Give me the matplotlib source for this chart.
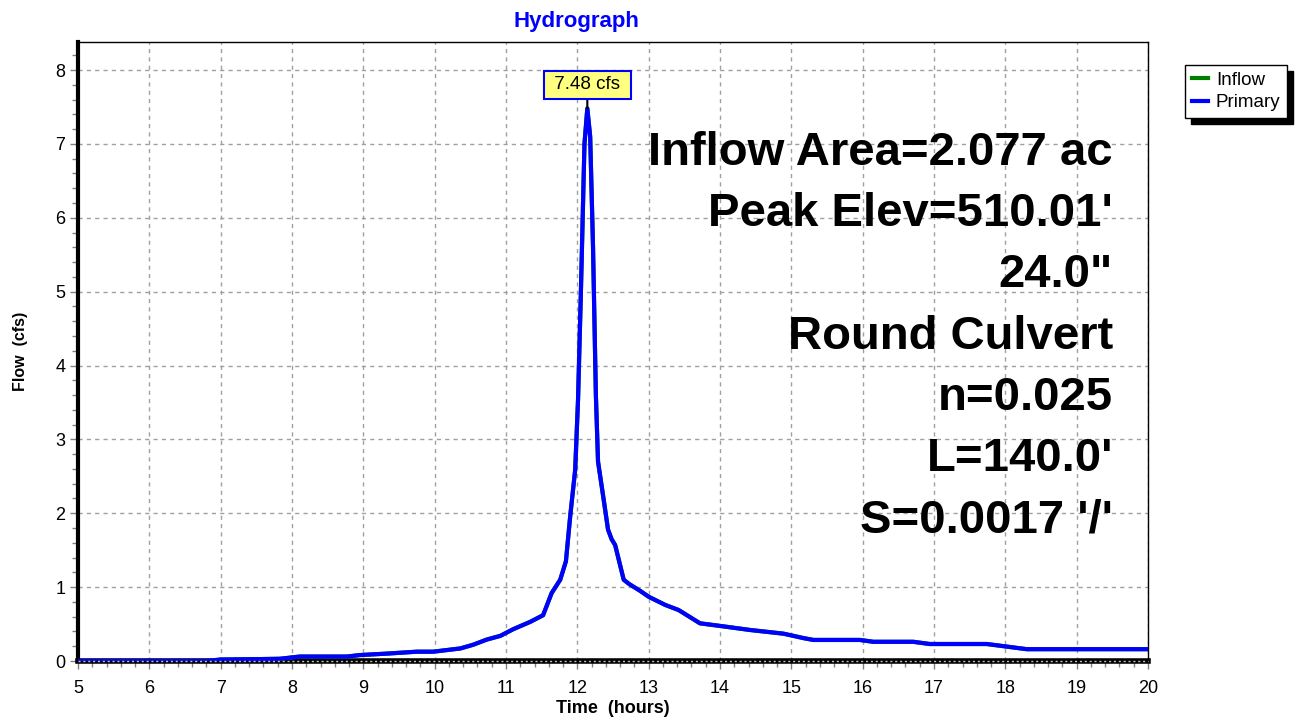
import numpy as np
import matplotlib.pyplot as plt
from matplotlib.ticker import MultipleLocator

# -----------------------------
# Data
# -----------------------------
time_hr = [5.0, 6.8, 7.0, 7.5, 7.83, 8.11, 8.77, 8.95, 9.33, 9.75, 9.98, 10.36, 10.54,
           10.73, 10.92, 11.1, 11.34, 11.52, 11.64, 11.76, 11.84, 11.9, 11.97, 12.01,
           12.05, 12.1, 12.14, 12.18, 12.22, 12.26, 12.29, 12.37, 12.43, 12.48, 12.53,
           12.65, 12.73, 12.88, 13.0, 13.23, 13.42, 13.72, 14.0, 14.42, 14.89, 15.17,
           15.31, 15.96, 16.15, 16.71, 16.94, 17.74, 18.3, 20.0]
primary_cfs = [0.0, 0.0, 0.02, 0.025, 0.03, 0.06, 0.06, 0.08, 0.10, 0.126, 0.126, 0.17, 0.22,
               0.29, 0.34, 0.43, 0.53, 0.62, 0.92, 1.1, 1.35, 1.96, 2.59, 3.54,
               5.0, 7.0, 7.48, 7.1, 5.6, 3.6, 2.7, 2.18, 1.78, 1.65, 1.57,
               1.1, 1.04, 0.95, 0.87, 0.76, 0.69, 0.51, 0.475, 0.42, 0.37, 0.31,
               0.285, 0.285, 0.26, 0.26, 0.23, 0.23, 0.16, 0.16]
inflow_cfs = primary_cfs  # hidden under Primary in the reference

peak_time = 12.14
peak_flow = 7.48

info_lines = ["Inflow Area=2.077 ac", "Peak Elev=510.01'", '24.0"', "Round Culvert",
              "n=0.025", "L=140.0'", "S=0.0017 '/'"]

plt.rcParams['font.family'] = ['Liberation Sans', 'DejaVu Sans']

fig = plt.figure(figsize=(12.96, 7.19), dpi=100)
ax = fig.add_axes([78/1296, 1-661/719, (1148-78)/1296, (661-42)/719])

ax.plot(time_hr, inflow_cfs, color='#008000', lw=3, label='Inflow', zorder=3)
ax.plot(time_hr, primary_cfs, color='#0000FF', lw=3, label='Primary', zorder=4)

ax.set_xlim(5, 20)
ax.set_ylim(0, 8.38)
ax.xaxis.set_major_locator(MultipleLocator(1))
ax.xaxis.set_minor_locator(MultipleLocator(0.2))
ax.yaxis.set_major_locator(MultipleLocator(1))
ax.yaxis.set_minor_locator(MultipleLocator(0.2))
ax.grid(True, which='major', color='#a0a0a0', ls=(0, (3, 3)), lw=1)
ax.tick_params(which='major', length=6, width=1, color='#808080', labelsize=13, pad=3)
ax.tick_params(which='minor', length=4, width=1, color='#808080')
ax.tick_params(axis='x', which='major', pad=8)

for s in ['top', 'right']:
    ax.spines[s].set_linewidth(1)
ax.spines['left'].set_linewidth(3)
ax.spines['bottom'].set_linewidth(4)
# dotted look on the x-axis line
ax.axhline(0, color='#c0c0c0', ls=(0, (1.5, 2)), lw=1, zorder=6, clip_on=False)

fig.text(576/1296, 1 - 21/719, "Hydrograph", color='#0000FF', fontweight='bold',
         fontsize=16, ha='center', va='center')
ax.set_xlabel("Time  (hours)", fontweight='bold', fontsize=13, labelpad=2)
ax.set_ylabel("Flow  (cfs)", fontweight='bold', fontsize=11.5, labelpad=20)

# peak label
ax.annotate(f" {peak_flow:.2f} cfs ", xy=(peak_time, peak_flow), xytext=(peak_time, 7.80),
            ha='center', va='center', fontsize=13.5, zorder=7,
            bbox=dict(boxstyle='square,pad=0.28', fc='#FFFF80', ec='#0000FF', lw=1.5),
            arrowprops=dict(arrowstyle='-', color='black', lw=1.5, shrinkA=0, shrinkB=0))

# info block
for i, line in enumerate(info_lines):
    fig.text(1113/1296, 1 - (165 + i*61.2)/719, line, ha='right', va='baseline',
             fontsize=34, fontweight='bold', color='black')

leg = fig.legend(loc='upper left', bbox_to_anchor=(1185/1296, 1-65/719), frameon=True,
                 fontsize=13.5, handlelength=0.9, handletextpad=0.4, borderpad=0.35,
                 labelspacing=0.3, borderaxespad=0, fancybox=False,
                 shadow={'color': 'black', 'alpha': 1, 'ox': 4, 'oy': -4})
leg.get_frame().set_edgecolor('black')
leg.get_frame().set_linewidth(1)

fig.savefig("out.png", dpi=100)
